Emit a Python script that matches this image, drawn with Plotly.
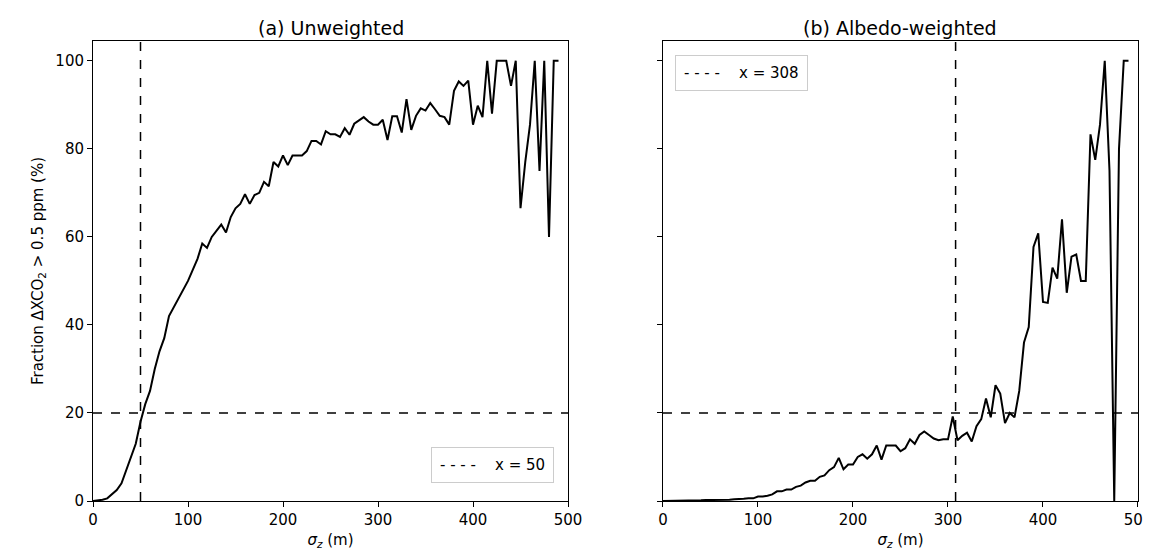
import plotly.graph_objects as go
from plotly.subplots import make_subplots

sigma = list(range(0, 500, 5))

unweighted = [0, 0.1, 0.3, 0.6, 1.5, 2.5, 4, 7, 10, 13, 18, 22, 25, 30, 34, 37, 42, 44, 46, 48,
              50, 52.5, 55, 58.5, 57.5, 60, 61.5, 62.8, 61, 64.5, 66.5, 67.5, 69.7, 67.5, 69.5, 70, 72.5, 71.5, 77, 76,
              78.5, 76.3, 78.5, 78.5, 78.5, 79.5, 81.8, 81.8, 81, 84, 83.3, 83.3, 82.7, 84.7, 83.2, 85.7, 86.5, 87.2, 86.2, 85.5,
              85.5, 86.6, 82, 87.4, 87.4, 83.7, 91.3, 84.3, 87.5, 89.2, 88.7, 90.4, 89.0, 87.5, 87.2, 85.5, 93.2, 95.3, 94.3,
              95.5, 85.5, 89.8, 87.2, 100, 88, 100, 100, 100, 94.3, 100, 66.5, 77, 85.5, 100, 75, 100, 60, 100, 100]
unweighted = unweighted[:len(sigma)]

albedo = [0, 0, 0, 0, 0.05, 0.05, 0.1, 0.1, 0.15, 0.2, 0.2, 0.25, 0.3, 0.3, 0.3, 0.4, 0.4, 0.5, 0.6, 0.6, 1, 1,
          1.2, 1.5, 2.2, 2.2, 2.6, 2.6, 3.2, 3.5, 4.2, 4.6, 4.6, 5.5, 5.8, 7, 7.7, 9.8, 7.2, 8.3, 8.3, 10,
          10.6, 9.6, 10.6, 12.6, 9.4, 12.6, 12.6, 12.6, 11.3, 12, 14, 13, 15, 15.8, 15, 14.2, 13.8, 14, 14, 19.2,
          13.8, 14.8, 15.5, 13.5, 17, 18.6, 23.3, 19, 26.3, 24.4, 17.7, 20, 19, 25, 36, 39.5, 57.7, 60.8, 45.2, 45,
          53, 50.5, 64, 47.3, 55.5, 56, 50, 50, 83.3, 77.5, 85.5, 100, 75, 0, 80, 100, 100]
albedo = albedo[:len(sigma)]

thresh_y = 20
cross_left = 50
cross_right = 308

font = dict(family="DejaVu Sans", size=15, color="black")

fig = make_subplots(rows=1, cols=2, shared_yaxes=True, horizontal_spacing=0.0909,
                    subplot_titles=("(a) Unweighted", "(b) Albedo-weighted"))

for col, ys, xc in [(1, unweighted, cross_left), (2, albedo, cross_right)]:
    fig.add_trace(go.Scatter(x=sigma, y=ys, mode="lines", line=dict(color="black", width=2),
                             showlegend=False), row=1, col=col)
    fig.add_trace(go.Scatter(x=[0, 500], y=[thresh_y, thresh_y], mode="lines",
                             line=dict(color="black", width=1.5, dash="dash"),
                             showlegend=False), row=1, col=col)
    fig.add_trace(go.Scatter(x=[xc, xc], y=[0, 105], mode="lines",
                             line=dict(color="black", width=1.5, dash="dash"),
                             showlegend=False), row=1, col=col)

fig.add_annotation(xref="x domain", yref="y domain", x=0.97, y=0.04, xanchor="right", yanchor="bottom",
                   text="- - - -    x = 50", showarrow=False, font=font,
                   bordercolor="#cccccc", borderwidth=1, borderpad=8, bgcolor="white")
fig.add_annotation(xref="x2 domain", yref="y2 domain", x=0.025, y=0.97, xanchor="left", yanchor="top",
                   text="- - - -    x = 308", showarrow=False, font=font,
                   bordercolor="#cccccc", borderwidth=1, borderpad=8, bgcolor="white")

for a in fig.layout.annotations[:2]:
    a.font = dict(family="DejaVu Sans", size=19, color="black")

axis_style = dict(showgrid=False, zeroline=False, showline=True, linecolor="black", mirror=True,
                  ticks="outside", ticklen=5, tickcolor="black", tickfont=font)
fig.update_xaxes(range=[0, 500], dtick=100, title=dict(text="<i>σ<sub>z</sub></i> (m)", font=font, standoff=6),
                 **axis_style)
fig.update_yaxes(range=[0, 104.5], dtick=20, **axis_style)
fig.update_yaxes(title=dict(text="Fraction ΔXCO<sub>2</sub> > 0.5 ppm (%)", font=font, standoff=8), row=1, col=1)
fig.update_yaxes(showticklabels=False, row=1, col=2)

fig.update_layout(width=1151, height=557, plot_bgcolor="white", paper_bgcolor="white",
                  margin=dict(l=85, r=21, t=33, b=64, autoexpand=False), font=font)

fig.write_html("out.html")
